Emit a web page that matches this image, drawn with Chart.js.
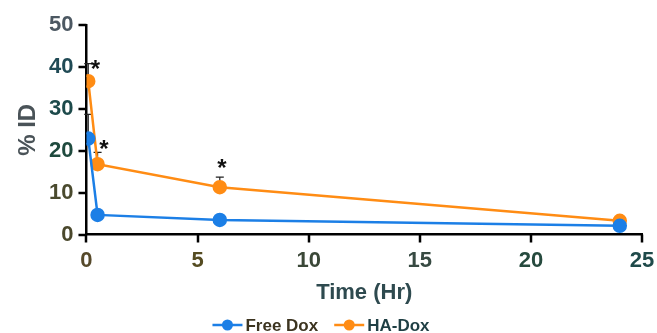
<!DOCTYPE html>
<html>
<head>
<meta charset="utf-8">
<script src="https://cdn.jsdelivr.net/npm/chart.js@4"></script>
<style>
  html, body { margin: 0; padding: 0; background: #fff; }
  #wrap { width: 657px; height: 333px; }
</style>
</head>
<body>
<div id="wrap"><canvas id="chart"></canvas></div>
<script>
        // Data
        const timeHr = [0.08, 0.5, 6, 24];
        const freeDox = [22.9, 4.7, 3.5, 2.1];
        const freeDoxErr = [5.8, 0, 0, 0];
        const haDox = [36.6, 16.8, 11.3, 3.3];
        const haDoxErr = [4.2, 2.8, 2.4, 0];
        // significance stars (time, level)
        const starTimes = [0.4, 0.78, 6.1];
        const starLevels = [40.6, 21.7, 17.0];
        const xTicks = [0, 5, 10, 15, 20, 25];
        const yTicks = [0, 10, 20, 30, 40, 50];
        const xTickColors = ['#56492a', '#554c22', '#3b4838', '#374a42', '#264a3e', '#1f4a4a'];
        const yTickColors = ['#4a482c', '#4a4a2e', '#1f4a3e', '#1d4a4b', '#204a55', '#4c5862'];
        const xTitle = 'Time (Hr)';
        const yTitle = '% ID';

        const blue = '#1c7fe6';
        const orange = '#ff8c14';
        const fontFamily = '"Liberation Sans", Arial, sans-serif';

        function toPoints(xs, ys) {
            return xs.map((x, i) => ({ x: x, y: ys[i] }));
        }

        // Tick marks, error bars, stars, axis titles and the legend
        const extrasPlugin = {
            id: 'extras',
            beforeDatasetsDraw(chart) {
                const ctx = chart.ctx;
                const xs = chart.scales.x, ys = chart.scales.y;
                ctx.save();
                // error bars (upper only)
                ctx.strokeStyle = '#222';
                ctx.lineWidth = 1.2;
                [[freeDox, freeDoxErr], [haDox, haDoxErr]].forEach(([vals, errs]) => {
                    vals.forEach((v, i) => {
                        if (!errs[i]) return;
                        const px = xs.getPixelForValue(timeHr[i]);
                        const y0 = ys.getPixelForValue(v);
                        const y1 = ys.getPixelForValue(v + errs[i]);
                        ctx.beginPath();
                        ctx.moveTo(px, y0);
                        ctx.lineTo(px, y1);
                        ctx.moveTo(px - 4, y1);
                        ctx.lineTo(px + 4, y1);
                        ctx.stroke();
                    });
                });
                ctx.restore();
            },
            afterDatasetsDraw(chart) {
                const ctx = chart.ctx;
                const xs = chart.scales.x, ys = chart.scales.y;
                ctx.save();
                ctx.fillStyle = '#111';
                ctx.font = 'bold 24px ' + fontFamily;
                ctx.textAlign = 'center';
                ctx.textBaseline = 'alphabetic';
                starTimes.forEach((t, i) => {
                    ctx.fillText('*', xs.getPixelForValue(t), ys.getPixelForValue(starLevels[i]) + 13);
                });
                ctx.restore();
            },
            afterDraw(chart) {
                const ctx = chart.ctx;
                const area = chart.chartArea;
                const xs = chart.scales.x, ys = chart.scales.y;
                ctx.save();
                // tick marks
                ctx.strokeStyle = '#000';
                ctx.lineWidth = 2.5;
                ctx.beginPath();
                xTicks.forEach(v => {
                    const px = Math.round(xs.getPixelForValue(v));
                    ctx.moveTo(px, area.bottom);
                    ctx.lineTo(px, area.bottom + 8);
                });
                yTicks.forEach(v => {
                    const py = Math.round(ys.getPixelForValue(v));
                    ctx.moveTo(area.left, py);
                    ctx.lineTo(area.left - 8, py);
                });
                ctx.stroke();

                ctx.textAlign = 'center';
                ctx.textBaseline = 'middle';
                // axis titles
                ctx.font = 'bold 22px ' + fontFamily;
                ctx.fillStyle = '#2e4a4f';
                ctx.fillText(xTitle, (area.left + area.right) / 2, 293);
                ctx.save();
                ctx.translate(28, (area.top + area.bottom) / 2);
                ctx.rotate(-Math.PI / 2);
                ctx.font = 'bold 24px ' + fontFamily;
                ctx.fillStyle = '#4a5358';
                ctx.fillText(yTitle, 0, 0);
                ctx.restore();

                // legend
                const items = [['Free Dox', blue, '#3c3420'], ['HA-Dox', orange, '#1f3f44']];
                const iconW = 30, gap = 3, between = 16;
                ctx.textAlign = 'left';
                ctx.font = 'bold 17px ' + fontFamily;
                const widths = items.map(it => iconW + gap + ctx.measureText(it[0]).width);
                const total = widths.reduce((a, b) => a + b, 0) + between;
                let x = 321 - total / 2;
                const y = 325;
                items.forEach((it, i) => {
                    ctx.strokeStyle = it[1];
                    ctx.fillStyle = it[1];
                    ctx.lineWidth = 2.5;
                    ctx.beginPath();
                    ctx.moveTo(x, y);
                    ctx.lineTo(x + iconW, y);
                    ctx.stroke();
                    ctx.beginPath();
                    ctx.arc(x + iconW / 2, y, 5.5, 0, Math.PI * 2);
                    ctx.fill();
                    ctx.fillStyle = it[2];
                    ctx.fillText(it[0], x + iconW + gap, y + 1);
                    x += widths[i] + between;
                });
                ctx.restore();
            }
        };

        const ctx = document.getElementById('chart').getContext('2d');
        new Chart(ctx, {
            type: 'line',
            data: {
                datasets: [{
                    label: 'Free Dox',
                    data: toPoints(timeHr, freeDox),
                    borderColor: blue,
                    backgroundColor: blue,
                    borderWidth: 2.5,
                    pointRadius: 6,
                    pointHoverRadius: 6,
                    tension: 0
                }, {
                    label: 'HA-Dox',
                    data: toPoints(timeHr, haDox),
                    borderColor: orange,
                    backgroundColor: orange,
                    borderWidth: 2.5,
                    pointRadius: 6,
                    pointHoverRadius: 6,
                    tension: 0
                }]
            },
            options: {
                responsive: true,
                maintainAspectRatio: false,
                animation: false,
                layout: { padding: { top: 25, right: 15, left: 36, bottom: 46 } },
                plugins: {
                    tooltip: { enabled: false },
                    legend: { display: false }
                },
                scales: {
                    x: {
                        type: 'linear',
                        min: 0,
                        max: 25,
                        afterBuildTicks: (axis) => { axis.ticks = xTicks.map(v => ({ value: v })); },
                        // let the layout padding decide the edges
                        afterFit: (axis) => { axis.paddingRight = 0; axis.paddingLeft = 0; },
                        grid: { display: false, drawTicks: false },
                        border: { color: '#000', width: 2.5 },
                        ticks: {
                            color: xTickColors,
                            padding: 13,
                            font: { family: fontFamily, size: 22, weight: 'bold' }
                        }
                    },
                    y: {
                        min: 0,
                        max: 50,
                        afterBuildTicks: (axis) => { axis.ticks = yTicks.map(v => ({ value: v })); },
                        afterFit: (axis) => { axis.paddingTop = 0; axis.paddingBottom = 0; },
                        grid: { display: false, drawTicks: false },
                        border: { color: '#000', width: 2.5 },
                        ticks: {
                            color: yTickColors,
                            padding: 13,
                            font: { family: fontFamily, size: 22, weight: 'bold' }
                        }
                    }
                }
            },
            plugins: [extrasPlugin]
        });
</script>
</body>
</html>
